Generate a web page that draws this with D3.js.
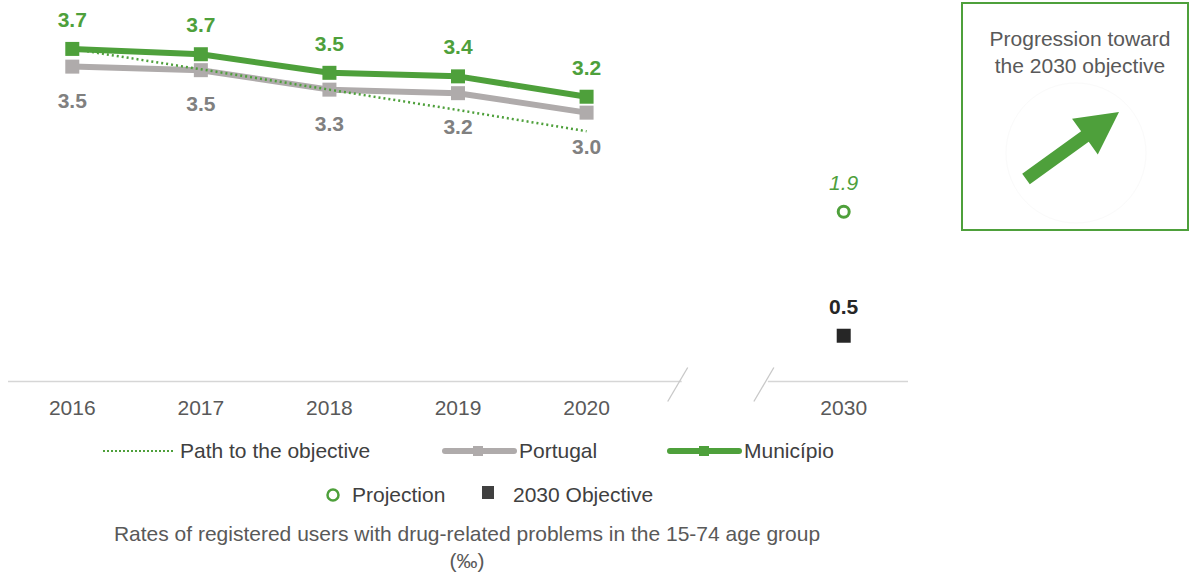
<!DOCTYPE html>
<html>
<head>
<meta charset="utf-8">
<script src="https://cdn.jsdelivr.net/npm/d3@7"></script>
<style>
  html, body { margin: 0; padding: 0; background: #fff; }
  svg { display: block; font-family: "Liberation Sans", Arial, sans-serif; }
</style>
</head>
<body>
<svg id="chart" width="1190" height="572"></svg>
<script>
// ---- data ----
const years = ["2016", "2017", "2018", "2019", "2020"];
const xCategories = ["2016", "2017", "2018", "2019", "2020", "gap", "2030"];
const municipio = [3.74, 3.68, 3.47, 3.43, 3.20];
const portugal = [3.54, 3.50, 3.28, 3.24, 3.02];
const pathToObjective = [3.74, 3.51, 3.28, 3.05, 2.81];
const projectionYear = "2030";
const projection = [1.9];
const objective = [0.5];
const tickLabels = ["2016", "2017", "2018", "2019", "2020", "", "2030"];
const legendRow1 = ["Path to the objective", "Portugal", "Município"];
const legendRow2 = ["Projection", "2030 Objective"];
const captionLines = ["Rates of registered users with drug-related problems in the 15-74 age group", "(‰)"];
const boxTitle = ["Progression toward", "the 2030 objective"];

// ---- styles ----
const GREEN = "#4ea03b";
const GREY = "#afabab";
const GREY_TXT = "#808080";
const DARK = "#262626";
const AXIS = "#d6d6d6";
const TXT = "#595959";
const FONT = 21;

const svg = d3.select("#chart");
const x = d3.scaleBand().domain(xCategories).range([8, 908]).padding(0);
const cx = d => x(d) + x.bandwidth() / 2;
const y = d3.scaleLinear().domain([0, 4.27]).range([380, 2]);
const fmt = d3.format(".1f");
const axisY = y(0) + 1.5;

// ---- axis (with break) ----
const leftEnd = cx("2020") + x.bandwidth() * 0.74;
const rightStart = cx("2030") - x.bandwidth() * 0.59;
svg.append("line").attr("x1", x.range()[0]).attr("x2", leftEnd)
  .attr("y1", axisY).attr("y2", axisY).attr("stroke", AXIS).attr("stroke-width", 1.5);
svg.append("line").attr("x1", rightStart).attr("x2", x.range()[1])
  .attr("y1", axisY).attr("y2", axisY).attr("stroke", AXIS).attr("stroke-width", 1.5);
[leftEnd - 4, rightStart - 4].forEach(bx => {
  svg.append("line").attr("x1", bx - 10).attr("y1", axisY + 20)
    .attr("x2", bx + 10).attr("y2", axisY - 14)
    .attr("stroke", "#c8c8c8").attr("stroke-width", 1.3);
});

// tick labels via d3 axis
const xAxis = d3.axisBottom(x).tickSize(0).tickPadding(0)
  .tickFormat((d, i) => tickLabels[i]);
const gAxis = svg.append("g").attr("transform", `translate(0,${axisY + 33})`).call(xAxis);
gAxis.select(".domain").remove();
gAxis.selectAll("text").attr("fill", TXT).attr("font-size", FONT)
  .attr("font-family", "Liberation Sans, Arial, sans-serif").attr("dy", "0");

// ---- lines ----
const line = d3.line().x((d, i) => cx(years[i])).y(d => y(d));

svg.append("path").datum(portugal).attr("d", line)
  .attr("fill", "none").attr("stroke", GREY).attr("stroke-width", 6).attr("stroke-linejoin", "round");
svg.selectAll(".pm").data(portugal).join("rect")
  .attr("x", (d, i) => cx(years[i]) - 7).attr("y", d => y(d) - 7)
  .attr("width", 14).attr("height", 14).attr("fill", GREY);

svg.append("path").datum(pathToObjective).attr("d", line)
  .attr("fill", "none").attr("stroke", GREEN).attr("stroke-width", 2.5)
  .attr("stroke-dasharray", "2 3");

svg.append("path").datum(municipio).attr("d", line)
  .attr("fill", "none").attr("stroke", GREEN).attr("stroke-width", 6).attr("stroke-linejoin", "round");
svg.selectAll(".mm").data(municipio).join("rect")
  .attr("x", (d, i) => cx(years[i]) - 7).attr("y", d => y(d) - 7)
  .attr("width", 14).attr("height", 14).attr("fill", GREEN);

// data labels
svg.selectAll(".ml").data(municipio).join("text")
  .attr("x", (d, i) => cx(years[i])).attr("y", d => y(d) - 22)
  .attr("text-anchor", "middle").attr("font-size", FONT).attr("font-weight", "bold")
  .attr("fill", GREEN).text(d => fmt(d));
svg.selectAll(".pl").data(portugal).join("text")
  .attr("x", (d, i) => cx(years[i])).attr("y", d => y(d) + 41)
  .attr("text-anchor", "middle").attr("font-size", FONT).attr("font-weight", "bold")
  .attr("fill", GREY_TXT).text(d => fmt(d));

// projection & objective
svg.selectAll(".proj").data(projection).join("circle")
  .attr("cx", cx(projectionYear)).attr("cy", d => y(d)).attr("r", 5.5)
  .attr("fill", "#fff").attr("stroke", GREEN).attr("stroke-width", 3);
svg.selectAll(".projl").data(projection).join("text")
  .attr("x", cx(projectionYear)).attr("y", d => y(d) - 22)
  .attr("text-anchor", "middle").attr("font-size", FONT).attr("font-style", "italic")
  .attr("fill", GREEN).text(d => fmt(d));
svg.selectAll(".obj").data(objective).join("rect")
  .attr("x", cx(projectionYear) - 7).attr("y", d => y(d) - 7)
  .attr("width", 14).attr("height", 14).attr("fill", DARK);
svg.selectAll(".objl").data(objective).join("text")
  .attr("x", cx(projectionYear)).attr("y", d => y(d) - 22)
  .attr("text-anchor", "middle").attr("font-size", FONT).attr("font-weight", "bold")
  .attr("fill", DARK).text(d => fmt(d));

// ---- legend ----
const LEG = "#404040";
const r1 = 451;
const lg = svg.append("g");
// path to objective
lg.append("line").attr("x1", 103).attr("x2", 174).attr("y1", r1).attr("y2", r1)
  .attr("stroke", GREEN).attr("stroke-width", 2).attr("stroke-dasharray", "2 2");
lg.append("text").attr("x", 180).attr("y", r1 + 7).attr("font-size", FONT).attr("fill", LEG).text(legendRow1[0]);
// Portugal
lg.append("line").attr("x1", 445).attr("x2", 514).attr("y1", r1).attr("y2", r1)
  .attr("stroke", GREY).attr("stroke-width", 6).attr("stroke-linecap", "round");
lg.append("rect").attr("x", 473).attr("y", r1 - 5).attr("width", 10).attr("height", 10).attr("fill", GREY);
lg.append("text").attr("x", 519).attr("y", r1 + 7).attr("font-size", FONT).attr("fill", LEG).text(legendRow1[1]);
// Município
lg.append("line").attr("x1", 670).attr("x2", 739).attr("y1", r1).attr("y2", r1)
  .attr("stroke", GREEN).attr("stroke-width", 6).attr("stroke-linecap", "round");
lg.append("rect").attr("x", 699).attr("y", r1 - 5).attr("width", 10).attr("height", 10).attr("fill", GREEN);
lg.append("text").attr("x", 744).attr("y", r1 + 7).attr("font-size", FONT).attr("fill", LEG).text(legendRow1[2]);

const r2 = 495;
lg.append("circle").attr("cx", 333).attr("cy", r2).attr("r", 5.5)
  .attr("fill", "#fff").attr("stroke", GREEN).attr("stroke-width", 2.5);
lg.append("text").attr("x", 352).attr("y", r2 + 7).attr("font-size", FONT).attr("fill", LEG).text(legendRow2[0]);
lg.append("rect").attr("x", 482).attr("y", r2 - 9).attr("width", 12).attr("height", 13).attr("fill", "#404040");
lg.append("text").attr("x", 513).attr("y", r2 + 7).attr("font-size", FONT).attr("fill", LEG).text(legendRow2[1]);

// caption
svg.selectAll(".cap").data(captionLines).join("text")
  .attr("x", 467).attr("y", (d, i) => 541 + i * 27)
  .attr("text-anchor", "middle").attr("font-size", FONT).attr("fill", TXT).text(d => d);

// ---- progression box ----
const bx = svg.append("g");
bx.append("rect").attr("x", 962).attr("y", 3).attr("width", 226).attr("height", 227)
  .attr("fill", "#fff").attr("stroke", GREEN).attr("stroke-width", 2);
bx.selectAll("text").data(boxTitle).join("text")
  .attr("x", 1080).attr("y", (d, i) => 46 + i * 27)
  .attr("text-anchor", "middle").attr("font-size", 21).attr("fill", TXT).text(d => d);
bx.append("circle").attr("cx", 1076).attr("cy", 153).attr("r", 70)
  .attr("fill", "none").attr("stroke", "#fafafa").attr("stroke-width", 1);
// arrow
(function () {
  const x0 = 1026, y0 = 179, x1 = 1119, y1 = 112;
  const ang = Math.atan2(y1 - y0, x1 - x0);
  const L = Math.hypot(x1 - x0, y1 - y0);
  const sw = 6.5, hw = 22, hl = 42;
  const pts = [[0, -sw], [L - hl, -sw], [L - hl, -hw], [L, 0], [L - hl, hw], [L - hl, sw], [0, sw]]
    .map(([u, v]) => [x0 + u * Math.cos(ang) - v * Math.sin(ang), y0 + u * Math.sin(ang) + v * Math.cos(ang)]);
  bx.append("path").attr("d", d3.line()(pts) + "Z").attr("fill", GREEN);
})();
</script>
</body>
</html>
